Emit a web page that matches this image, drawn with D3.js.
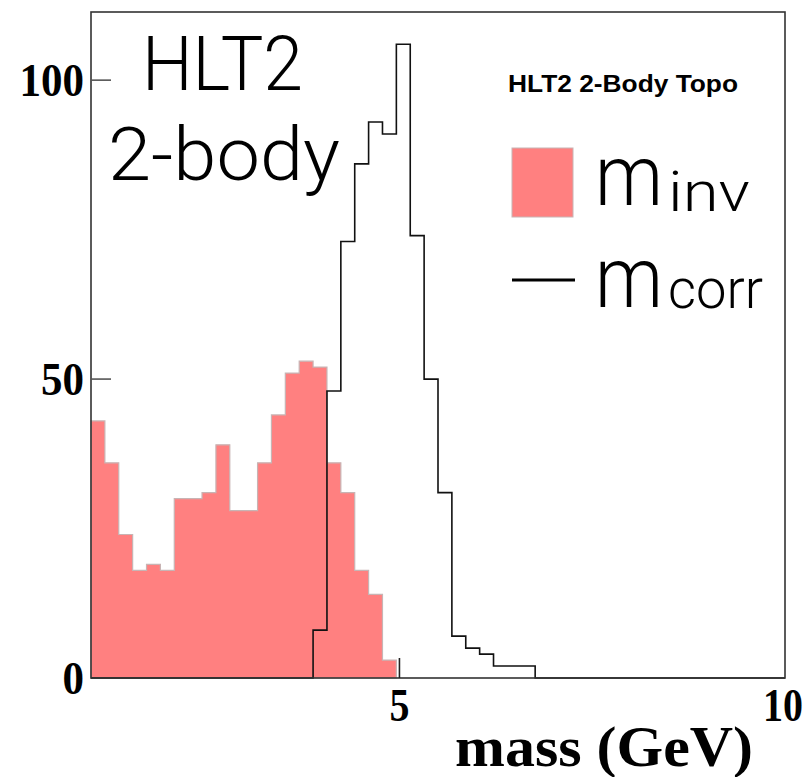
<!DOCTYPE html>
<html>
<head>
<meta charset="utf-8">
<script src="https://cdnjs.cloudflare.com/ajax/libs/d3/7.8.5/d3.min.js"></script>
<style>
  html, body { margin: 0; padding: 0; background: #fff; }
  svg { display: block; }
  .serif { font-family: "Liberation Serif", "DejaVu Serif", serif; font-weight: bold; }
  .light { font-family: Roboto, "Liberation Sans", sans-serif; font-weight: 300; }
</style>
</head>
<body>
<svg id="chart" width="810" height="777"></svg>
<script>
// histogram binning: 50 bins from 1 to 10 GeV
const binLow = 1;
const binHigh = 10;
const binCount = 50;

// invariant mass (filled)
const mInv = [
  43, 36, 24, 18, 19, 18, 30, 30, 31, 39,
  28, 28, 36, 44, 51, 53, 52, 36, 31, 18,
  14, 3, 0, 0, 0, 0, 0, 0, 0, 0,
  0, 0, 0, 0, 0, 0, 0, 0, 0, 0,
  0, 0, 0, 0, 0, 0, 0, 0, 0, 0
];

// corrected mass (line)
const mCorr = [
  0, 0, 0, 0, 0, 0, 0, 0, 0, 0,
  0, 0, 0, 0, 0, 0, 8, 48, 73, 86,
  93, 91, 106, 74, 50, 31, 7, 5, 4, 2,
  2, 2, 0, 0, 0, 0, 0, 0, 0, 0,
  0, 0, 0, 0, 0, 0, 0, 0, 0, 0
];

const yTicks = [0, 50, 100];
const xTicks = [5, 10];
const yMax = 111.4;

const svg = d3.select('#chart');
const frame = { left: 91, right: 785, top: 12, bottom: 678 };

const x = d3.scaleLinear().domain([binLow, binHigh]).range([frame.left, frame.right]);
const y = d3.scaleLinear().domain([0, yMax]).range([frame.bottom, frame.top]);

const binWidth = (binHigh - binLow) / binCount;
const toPoints = vals => {
  const pts = vals.map((v, i) => ({ e: binLow + i * binWidth, v }));
  pts.push({ e: binLow + vals.length * binWidth, v: vals[vals.length - 1] });
  return pts;
};

// filled m_inv (only up to the last non-empty bin)
const area = d3.area()
  .curve(d3.curveStepAfter)
  .x(d => x(d.e))
  .y0(y(0))
  .y1(d => y(d.v));

const lastInv = mInv.length - 1 - [...mInv].reverse().findIndex(v => v > 0);

svg.append('path')
  .datum(toPoints(mInv.slice(0, lastInv + 1)))
  .attr('d', area)
  .attr('fill', '#ff8080')
  .attr('stroke', '#c8b4b4')
  .attr('stroke-width', 1.2);

// m_corr outline
const line = d3.line()
  .curve(d3.curveStepAfter)
  .x(d => x(d.e))
  .y(d => y(d.v));

svg.append('path')
  .datum(toPoints(mCorr))
  .attr('d', line)
  .attr('fill', 'none')
  .attr('stroke', '#111')
  .attr('stroke-width', 1.6);

// frame
svg.append('rect')
  .attr('x', frame.left)
  .attr('y', frame.top)
  .attr('width', frame.right - frame.left)
  .attr('height', frame.bottom - frame.top)
  .attr('fill', 'none')
  .attr('stroke', '#333')
  .attr('stroke-width', 1.6);

// y ticks
svg.selectAll('.ytick')
  .data(yTicks.filter(t => t > 0))
  .enter()
  .append('line')
  .attr('x1', frame.left)
  .attr('x2', frame.left + 20)
  .attr('y1', d => y(d))
  .attr('y2', d => y(d))
  .attr('stroke', '#555')
  .attr('stroke-width', 1.6);

svg.selectAll('.ylab')
  .data(yTicks)
  .enter()
  .append('text')
  .attr('class', 'serif')
  .attr('x', 84)
  .attr('y', d => y(d) + 16)
  .attr('text-anchor', 'end')
  .attr('font-size', 46)
  .attr('textLength', d => String(d).length * 21.5)
  .attr('lengthAdjust', 'spacingAndGlyphs')
  .text(d => d);

// x ticks
svg.selectAll('.xtick')
  .data(xTicks.filter(t => t < binHigh))
  .enter()
  .append('line')
  .attr('x1', d => x(d))
  .attr('x2', d => x(d))
  .attr('y1', frame.bottom)
  .attr('y2', frame.bottom - 20)
  .attr('stroke', '#222')
  .attr('stroke-width', 1.6);

svg.selectAll('.xlab')
  .data(xTicks)
  .enter()
  .append('text')
  .attr('class', 'serif')
  .attr('x', d => d === binHigh ? 783 : x(d))
  .attr('y', 721)
  .attr('text-anchor', 'middle')
  .attr('font-size', 46)
  .attr('textLength', d => String(d).length * 20)
  .attr('lengthAdjust', 'spacingAndGlyphs')
  .text(d => d);

svg.append('text')
  .attr('class', 'serif')
  .attr('x', 455)
  .attr('y', 766)
  .attr('font-size', 56)
  .attr('textLength', 298)
  .attr('lengthAdjust', 'spacingAndGlyphs')
  .text('mass (GeV)');

// big labels
svg.append('text')
  .attr('class', 'light')
  .attr('x', 142)
  .attr('y', 90)
  .attr('font-size', 76)
  .attr('textLength', 161)
  .attr('lengthAdjust', 'spacingAndGlyphs')
  .text('HLT2');

svg.append('text')
  .attr('class', 'light')
  .attr('x', 108)
  .attr('y', 180)
  .attr('font-size', 74)
  .attr('textLength', 232)
  .attr('lengthAdjust', 'spacingAndGlyphs')
  .text('2-body');

// legend
svg.append('text')
  .attr('x', 508)
  .attr('y', 92)
  .attr('font-family', '"Liberation Sans", Arial, sans-serif')
  .attr('font-weight', 'bold')
  .attr('font-size', 23)
  .attr('textLength', 230)
  .attr('lengthAdjust', 'spacingAndGlyphs')
  .text('HLT2 2-Body Topo');

svg.append('rect')
  .attr('x', 512)
  .attr('y', 148)
  .attr('width', 61)
  .attr('height', 69)
  .attr('fill', '#ff8080')
  .attr('stroke', '#c8b4b4')
  .attr('stroke-width', 1);

svg.append('line')
  .attr('x1', 512)
  .attr('x2', 575)
  .attr('y1', 280)
  .attr('y2', 280)
  .attr('stroke', '#000')
  .attr('stroke-width', 3);

const legendItems = [
  { sub: 'inv', base: 205, subBase: 211, subLen: 82 },
  { sub: 'corr', base: 307, subBase: 308, subLen: 95 }
];

legendItems.forEach(it => {
  svg.append('text')
    .attr('class', 'light')
    .attr('x', 595)
    .attr('y', it.base)
    .attr('font-size', 86)
    .attr('textLength', 68)
    .attr('lengthAdjust', 'spacingAndGlyphs')
    .text('m');
  svg.append('text')
    .attr('class', 'light')
    .attr('x', 668)
    .attr('y', it.subBase)
    .attr('font-size', 56)
    .attr('textLength', it.subLen)
    .attr('lengthAdjust', 'spacingAndGlyphs')
    .text(it.sub);
});
</script>
</body>
</html>
